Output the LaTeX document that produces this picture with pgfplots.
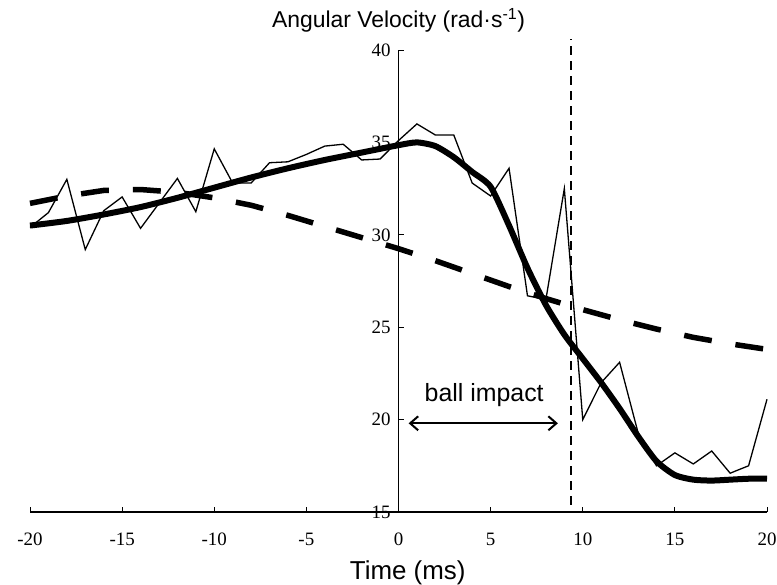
\documentclass[border=0pt]{standalone}
\usepackage{fontspec}
\setmainfont{Liberation Serif}
\newfontfamily\arial{Liberation Sans}
\usepackage{pgfplots}
\pgfplotsset{compat=1.18}
\usetikzlibrary{arrows.meta}
\begin{document}
\begin{tikzpicture}
\useasboundingbox (-30bp,-73bp) rectangle (747bp,512bp);
\begin{axis}[
  at={(0,0)}, anchor=south west,
  scale only axis, width=737bp, height=462bp,
  xmin=-20, xmax=20, ymin=15, ymax=40,
  axis x line=bottom, axis y line=center,
  axis line style={-, line width=1.3bp},
  hide obscured x ticks=false, hide obscured y ticks=false,
  xtick={-20,-15,...,20}, ytick={15,20,...,40},
  xtick align=inside, ytick align=center,
  major tick length=5bp,
  tick style={line width=0.9bp, black},
  every major y tick/.append style={xshift=2.5bp},
  ticklabel style={font=\fontsize{19}{19}\selectfont},
  /pgf/number format/assume math mode=true,
  xticklabel style={anchor=base, yshift=-33bp},
  yticklabel style={xshift=-2bp},
  clip=false,
]
% dashed model curve
\addplot[black, line width=5.5bp, dash pattern=on 28bp off 24bp] coordinates {
(-20,31.7) (-18,32.1) (-16,32.4) (-14,32.45) (-12,32.3) (-10,32.0) (-8,31.6)
(-6,31.05) (-4,30.45) (-2,29.85) (0,29.25) (2,28.6) (4,27.9) (6,27.2)
(8,26.55) (10,25.95) (12,25.4) (14,24.9) (16,24.45) (18,24.1) (20,23.8)};
% raw measured data
\addplot[black, line width=1.3bp, line join=miter] coordinates {
(-20,30.4) (-19,31.2) (-18,33.0) (-17,29.2) (-16,31.3) (-15,32.05) (-14,30.35)
(-13,31.7) (-12,33.05) (-11,31.25) (-10,34.65) (-9,32.8) (-8,32.8) (-7,33.9)
(-6,33.95) (-5,34.35) (-4,34.8) (-3,34.9) (-2,34.05) (-1,34.1) (0,35.1)
(1,36.0) (2,35.4) (3,35.4) (4,32.8) (5,32.1) (6,33.6) (7,26.7) (8,26.5)
(9,32.5) (10,20.0) (11,22.0) (12,23.1) (13,19.3) (14,17.5) (15,18.2)
(16,17.6) (17,18.3) (18,17.1) (19,17.5) (20,21.1)};
% smoothed curve
\addplot[black, line width=6bp, smooth, tension=0.4] coordinates {
(-20,30.5) (-18,30.75) (-16,31.1) (-14,31.5) (-12,32.0) (-10,32.55) (-8,33.1)
(-6,33.6) (-4,34.05) (-2,34.45) (0,34.85) (1,35.0) (2,34.8) (3,34.2) (4,33.4)
(5,32.6) (6,30.5) (7,28.2) (8,26.2) (9,24.6) (10,23.3) (11,22.0) (12,20.6)
(13,19.1) (14,17.75) (15,17.0) (16,16.75) (17,16.7) (18,16.75) (19,16.8) (20,16.8)};
% impact marker
\addplot[black, line width=1.5bp, dash pattern=on 9bp off 6bp] coordinates {(9.35,15.4) (9.35,40.6)};
\draw[{Straight Barb[length=8bp,width=14bp]}-{Straight Barb[length=8bp,width=14bp]}, line width=2bp]
  (axis cs:0.55,19.8) -- (axis cs:8.65,19.8);
\node[anchor=base, font=\arial\fontsize{25}{25}\selectfont] at (axis cs:4.65,21.0) {ball impact};
\node[anchor=base, font=\arial\fontsize{23}{23}\selectfont, yshift=22bp] at (axis cs:0,40) {Angular Velocity (rad\textperiodcentered s\textsuperscript{-1})};
\node[anchor=base, font=\arial\fontsize{26}{26}\selectfont, yshift=-67bp] at (axis cs:0.5,15) {Time (ms)};
\end{axis}
\end{tikzpicture}
\end{document}
